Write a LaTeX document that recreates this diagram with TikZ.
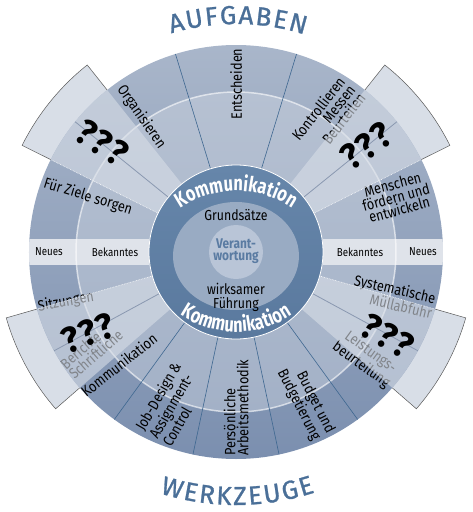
\documentclass[tikz,border=0pt]{standalone}
\usepackage{fontspec}
\setmainfont{Fira Sans}[FakeStretch=0.85]
\newfontfamily\plainfont{Fira Sans}
\newfontfamily\titlefam{Fira Sans}[FakeBold=1]
\newfontfamily\ringfam{Fira Sans}[FakeStretch=0.78]
\usepackage{tikz}
\usetikzlibrary{decorations.text}
\usepackage{xcolor}

\definecolor{titleblue}{HTML}{4A6F98}
\definecolor{diskTop}{HTML}{A9B6CA}
\definecolor{diskBot}{HTML}{7B8FAF}
\definecolor{innerTop}{HTML}{B6C1D2}
\definecolor{innerBot}{HTML}{A3B1C7}
\definecolor{ringTop}{HTML}{6686AA}
\definecolor{ringBot}{HTML}{5A799E}
\definecolor{coreblue}{HTML}{99ABC3}
\definecolor{hubblue}{HTML}{B9C5D7}
\definecolor{hubtext}{HTML}{5A7BA2}
\definecolor{spokeblue}{HTML}{3E6790}
\definecolor{bandgray}{HTML}{DFE3EA}
\definecolor{tabgray}{HTML}{D8DEE7}
\definecolor{midgray}{HTML}{8A98B0}

\newcommand\ringfont{\ringfam\bfseries\fontsize{21}{21}\selectfont}
\newcommand\titlefont{\titlefam\fontsize{26}{26}\selectfont}

\begin{document}
\begin{tikzpicture}[x=1pt,y=1pt,%
    lbl/.style={font=\fontsize{15}{13}\selectfont,inner sep=0pt},
    bandlbl/.style={font=\fontsize{11.5}{12}\selectfont,inner sep=0pt},
    hublbl/.style={font=\fontsize{14.5}{14}\selectfont,inner sep=0pt,align=center},
    qmark/.style={font=\plainfont\bfseries\fontsize{36}{36}\selectfont,inner sep=0pt},
    spoke/.style={spokeblue,line width=0.6pt},
    tabline/.style={draw=black!65,line width=0.5pt},
    midline/.style={midgray,line width=0.8pt},
    rimline/.style={white,densely dotted,line width=0.6pt}]

  \useasboundingbox (-236,-260) rectangle (236,252);

  % tabs sticking out of the wheel
  \foreach \tabmid in {141,39,-151.5,-28.5} {
    \pgfmathsetmacro\ta{\tabmid-12.5}
    \pgfmathsetmacro\tb{\tabmid+12.5}
    \fill[tabgray] (\ta:200) -- (\ta:239) arc[start angle=\ta,end angle=\tb,radius=239] -- (\tb:200) -- cycle;
    \draw[tabline] (\ta:207) -- (\ta:239) arc[start angle=\ta,end angle=\tb,radius=239] -- (\tb:207);
  }

  \shade[top color=diskTop,bottom color=diskBot] (0,0) circle[radius=207];
  \shade[top color=innerTop,bottom color=innerBot,even odd rule] (0,0) circle[radius=160] (0,0) circle[radius=87];

  \begin{scope}
    \clip (0,0) circle[radius=207];
    \fill[bandgray] (-210,-13) rectangle (-87,13);
    \fill[bandgray] (87,-13) rectangle (210,13);
  \end{scope}
  \draw[white,opacity=0.6,line width=1.5pt] (0,0) circle[radius=160];

  \foreach \a in {107,73,-54,-78,-102,-126}
    \draw[spoke] (\a:87) -- (\a:207);

  \foreach \x/\txt [count=\i] in {-187/Neues,-121/Bekanntes,124/Bekanntes,187/Neues}
    \node[bandlbl] (band-\i) at (\x,0) {\txt};

  % AUFGABEN
  \node[lbl,rotate=90] (entscheiden) at (90:168) {Entscheiden};
  \node[lbl,rotate=-55] (organisieren) at (125:165) {Organisieren};
  \node[lbl,rotate=52,align=right,anchor=east] (kontrollieren) at (55:202) {Kontrollieren\\Messen\\Beurteilen};
  \node[lbl,rotate=-17] (ziele) at (-148,55) {Für Ziele sorgen};
  \node[lbl,rotate=15,align=center] (menschen) at (160,55) {Menschen\\fördern und\\entwickeln};

  % WERKZEUGE
  \node[lbl,rotate=10] (sitzungen) at (-170,-50) {Sitzungen};
  \node[lbl,rotate=41,align=left,anchor=west] (berichte) at (-145:207) {Berichte\\Schriftliche};
  \node[lbl,rotate=38] (kommunikation) at (-117,-113) {Kommunikation};
  \node[lbl,rotate=60,align=left,anchor=west] (jobdesign) at (-114.3:203) {Job-Design \&\\Assignment-\\Control};
  \node[lbl,rotate=90,align=left,anchor=west] (methodik) at (0,-204) {Persönliche\\Arbeitsmethodik};
  \node[lbl,rotate=-63,align=right,anchor=east] (budget) at (-64.6:204) {Budget und\\Budgetierung};
  \node[lbl,rotate=-36,align=center] (leistung) at (-39.4:168) {Leistungs-\\beurteilung};
  \node[lbl,rotate=-13,align=right,anchor=east] (muell) at (-15.2:205) {Systematische\\Müllabfuhr};

  \foreach \tabmid/\tabrim in {141/153.5,39/26.5,-151.5/-164,-28.5/-16} {
    \pgfmathsetmacro\ta{\tabmid-12.5}
    \pgfmathsetmacro\tb{\tabmid+12.5}
    \fill[tabgray,opacity=0.6] (\ta:87) -- (\ta:207) arc[start angle=\ta,end angle=\tb,radius=207]
      -- (\tb:87) arc[start angle=\tb,end angle=\ta,radius=87] -- cycle;
    \draw[midline] (\tabmid:87) -- (\tabmid:207);
    \draw[rimline] (\tabrim:87) -- (\tabrim:207);
  }

  \foreach \x/\y/\rot [count=\i] in {-134/109/-33,130/106/35,-148/-81/21,151/-84/-30}
    \node[qmark,rotate=\rot] (q-\i) at (\x,\y) {?\kern1pt?\kern1pt?};

  % hub
  \shade[top color=ringTop,bottom color=ringBot] (0,0) circle[radius=87];
  \draw[white,line width=0.8pt] (0,0) circle[radius=87];
  \fill[coreblue] (0,-4) ellipse[x radius=63,y radius=54];
  \fill[hubblue] (0,0) circle[radius=27];

  \node[hublbl] (grundsaetze) at (0,37) {Grundsätze};
  \node[hublbl] (fuehrung) at (0,-45) {wirksamer\\Führung};
  \node[hublbl,font=\bfseries\fontsize{14}{12}\selectfont,text=hubtext] (verantwortung) at (0,1) {Verant-\\wortung};

  \path[shift={(0,-39)},decorate,decoration={text along path,text={|\ringfont|Kommunikation},
    text color=white,text align=center}] (150:100) arc[start angle=150,end angle=30,radius=100];
  \path[shift={(0,20)},decorate,decoration={text along path,text={|\ringfont|Kommunikation},
    text color=white,text align=center}] (-150:100) arc[start angle=-150,end angle=-30,radius=100];

  \path[decorate,decoration={text along path,text={|\titlefont|AUFGABEN},
    text color=titleblue,text align=fit to path}] (106.5:228) arc[start angle=106.5,end angle=72.5,radius=228];
  \path[decorate,decoration={text along path,text={|\titlefont|WERKZEUGE},
    text color=titleblue,text align=fit to path}] (-107.5:253) arc[start angle=-107.5,end angle=-71.8,radius=253];
\end{tikzpicture}
\end{document}
